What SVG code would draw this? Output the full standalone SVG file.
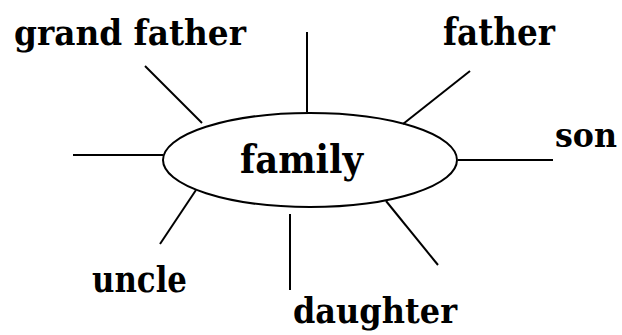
<svg xmlns="http://www.w3.org/2000/svg" width="622" height="335" viewBox="0 0 622 335">
<style>
.t{font-family:"DejaVu Serif","Liberation Serif",serif;font-weight:bold;fill:#000}
.c line{stroke:#000;stroke-width:2}
</style>
<rect width="622" height="335" fill="#fff"/>
<g class="c" id="connectors">
<line x1="307" y1="32" x2="307" y2="112"/>
<line x1="145" y1="66" x2="202" y2="123"/>
<line x1="73" y1="155" x2="163" y2="155"/>
<line x1="470" y1="71" x2="403" y2="124"/>
<line x1="458" y1="160" x2="553" y2="160"/>
<line x1="196" y1="190" x2="160" y2="244"/>
<line x1="290" y1="214" x2="290" y2="290"/>
<line x1="386" y1="201" x2="438" y2="265"/>
</g>
<g id="family">
<ellipse cx="310" cy="160" rx="147" ry="47" fill="none" stroke="#000" stroke-width="2"/>
<text class="t" x="240" y="173" font-size="39" textLength="123" lengthAdjust="spacingAndGlyphs">family</text>
</g>
<g id="grandfather"><text class="t" x="14" y="45" font-size="36" textLength="232" lengthAdjust="spacingAndGlyphs">grand father</text></g>
<g id="father"><text class="t" x="443" y="45" font-size="38" textLength="112" lengthAdjust="spacingAndGlyphs">father</text></g>
<g id="son"><text class="t" x="555" y="147" font-size="34" textLength="62" lengthAdjust="spacingAndGlyphs">son</text></g>
<g id="uncle"><text class="t" x="92" y="292" font-size="35" textLength="95" lengthAdjust="spacingAndGlyphs">uncle</text></g>
<g id="daughter"><text class="t" x="293" y="323" font-size="36" textLength="164" lengthAdjust="spacingAndGlyphs">daughter</text></g>
</svg>
